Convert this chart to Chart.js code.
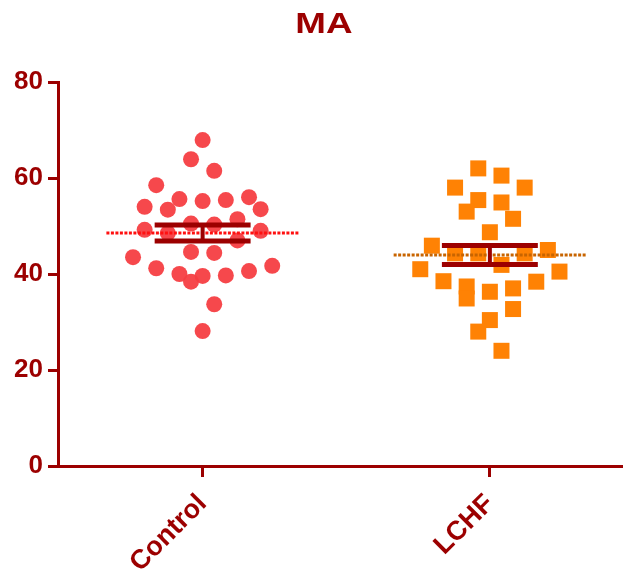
<!DOCTYPE html>
<html>
<head>
<meta charset="utf-8">
<script src="https://cdn.jsdelivr.net/npm/chart.js@4.4.1/dist/chart.umd.min.js"></script>
<style>
  html, body { margin: 0; padding: 0; background: #fff; }
  #wrap { width: 624px; height: 581px; }
</style>
</head>
<body>
<div id="wrap"><canvas id="c" width="624" height="581"></canvas></div>
<script>
// ---- data ----
const chartTitle = 'MA';
const groups = ['Control', 'LCHF'];
const controlValues = [67.9, 63.9, 61.5, 58.5, 56.0, 55.4, 55.2, 55.6, 53.5, 53.4,
                       54.0, 51.4, 50.3, 50.5, 49.2, 49.0, 48.5, 47.0, 43.5, 44.6,
                       44.4, 41.2, 41.7, 40.6, 40.0, 39.6, 39.7, 38.4, 33.7, 28.1];
const lchfValues = [62.0, 60.5, 58.0, 58.0, 55.4, 54.9, 53.0, 51.5, 48.7, 45.9,
                    45.0, 44.3, 44.3, 44.3, 41.9, 41.0, 40.5, 38.5, 38.4, 37.4,
                    36.3, 37.0, 34.9, 32.7, 30.4, 28.0, 24.0];
const yTicks = [0, 20, 40, 60, 80];

// ---- styling ----
const dark = '#9c0000';
const fontFamily = '"Liberation Sans", Arial, Helvetica, sans-serif';
const symbolSize = 16;             // px, circle diameter / square side
const slotStep = 11.6;             // px between neighbouring scatter columns
const rowHeights = [5.35, 5.9];    // y units per scatter row, one per group
const meanHalfWidth = 0.335;       // category units
const capHalfWidth = 0.167;        // category units

function mean(a) { return a.reduce((s, v) => s + v, 0) / a.length; }
function sem(a) {
  const m = mean(a);
  const sd = Math.sqrt(a.reduce((s, v) => s + (v - m) * (v - m), 0) / (a.length - 1));
  return sd / Math.sqrt(a.length);
}

function meanLine(values, center) {
  const m = mean(values);
  return [{ x: center - meanHalfWidth, y: m }, { x: center + meanHalfWidth, y: m }];
}
function errorSegments(values, center) {
  const m = mean(values), e = sem(values);
  return {
    top: [{ x: center - capHalfWidth, y: m + e }, { x: center + capHalfWidth, y: m + e }],
    bottom: [{ x: center - capHalfWidth, y: m - e }, { x: center + capHalfWidth, y: m - e }],
    stem: [{ x: center, y: m - e }, { x: center, y: m + e }]
  };
}

// Column-scatter layout: values are binned into horizontal rows starting at the
// group minimum; inside a row the highest values take the outermost columns,
// alternating left/right, and odd-sized rows keep one point on the centre line.
function scatterColumn(values, center, rowHeight, chart) {
  const xs = chart.scales.x;
  const pxPerUnit = xs.getPixelForValue(center + 1) - xs.getPixelForValue(center);
  const lo = Math.min(...values);
  const rows = new Map();
  values.forEach((v, i) => {
    const r = Math.floor((v - lo) / rowHeight + 1e-9);
    if (!rows.has(r)) rows.set(r, []);
    rows.get(r).push(i);
  });
  const out = new Array(values.length);
  rows.forEach(idxs => {
    idxs.sort((a, b) => values[b] - values[a]);
    const slots = [];
    for (let k = idxs.length - 1; k >= 0; k -= 2) { if (k === 0) slots.push(0); else slots.push(-k, k); }
    idxs.forEach((idx, j) => {
      out[idx] = { x: center + slots[j] * slotStep / pxPerUnit, y: values[idx] };
    });
  });
  return out;
}

const titlePlugin = {
  id: 'wideTitle',
  afterDraw(chart) {
    const ctx = chart.ctx;
    ctx.save();
    ctx.font = 'bold 29px ' + fontFamily;
    ctx.fillStyle = dark;
    ctx.textAlign = 'center';
    ctx.textBaseline = 'alphabetic';
    ctx.translate(chart.width / 2 + 12, 33);
    ctx.scale(1.27, 1);
    ctx.fillText(chartTitle, 0, 0);
    ctx.restore();
  }
};

const ctrlErr = errorSegments(controlValues, 1);
const lchfErr = errorSegments(lchfValues, 2);
const lineDs = (data, color, width, order, dash) => ({
  type: 'scatter', data, showLine: true, borderColor: color, borderWidth: width,
  borderDash: dash || [], pointRadius: 0, order, borderCapStyle: 'butt'
});

const chart = new Chart(document.getElementById('c'), {
  type: 'scatter',
  data: {
    datasets: [
      lineDs(ctrlErr.top, dark, 5, 0), lineDs(ctrlErr.bottom, dark, 5, 0), lineDs(ctrlErr.stem, dark, 4, 0),
      lineDs(lchfErr.top, dark, 5, 0), lineDs(lchfErr.bottom, dark, 5, 0), lineDs(lchfErr.stem, dark, 4, 0),
      lineDs(meanLine(controlValues, 1), '#ff1010', 3, 1, [3, 1.5]),
      lineDs(meanLine(lchfValues, 2), '#c86400', 3, 1, [3, 1.5]),
      {
        label: groups[0], data: controlValues.map(v => ({ x: 1, y: v })),
        pointStyle: 'circle', pointRadius: symbolSize / 2, borderWidth: 0,
        backgroundColor: 'rgba(245,62,66,0.95)', order: 2
      },
      {
        label: groups[1], data: lchfValues.map(v => ({ x: 2, y: v })),
        pointStyle: 'rect', pointRadius: symbolSize / 2 / Math.SQRT1_2, borderWidth: 0,
        backgroundColor: '#ff8204', order: 2
      }
    ]
  },
  options: {
    responsive: false,
    animation: false,
    events: [],
    layout: { autoPadding: false, padding: { top: 82, right: 2, left: 0, bottom: 0 } },
    plugins: { legend: { display: false }, title: { display: false }, tooltip: { enabled: false } },
    scales: {
      x: {
        type: 'linear', min: 0.4965, max: 2.46,
        afterBuildTicks: s => { s.ticks = groups.map((g, i) => ({ value: i + 1 })); },
        afterFit: s => { s.height = 115; s.paddingLeft = 0; s.paddingRight = 0; },
        ticks: {
          callback: v => groups[v - 1] || '',
          minRotation: 45, maxRotation: 45, autoSkip: false,
          color: dark, padding: 11,
          font: { family: fontFamily, size: 27, weight: 'bold' }
        },
        grid: { drawOnChartArea: false, drawTicks: true, tickLength: 11, tickWidth: 3, tickColor: dark },
        border: { display: true, color: dark, width: 3 }
      },
      y: {
        min: 0, max: 80,
        afterBuildTicks: s => { s.ticks = yTicks.map(v => ({ value: v })); },
        afterFit: s => { s.width = 58; },
        ticks: {
          color: dark, padding: 5,
          font: { family: fontFamily, size: 26, weight: 'bold' }
        },
        grid: { drawOnChartArea: false, drawTicks: true, tickLength: 10, tickWidth: 3, tickColor: dark },
        border: { display: true, color: dark, width: 3 }
      }
    }
  },
  plugins: [titlePlugin]
});

chart.data.datasets[8].data = scatterColumn(controlValues, 1, rowHeights[0], chart);
chart.data.datasets[9].data = scatterColumn(lchfValues, 2, rowHeights[1], chart);
chart.update('none');
</script>
</body>
</html>
